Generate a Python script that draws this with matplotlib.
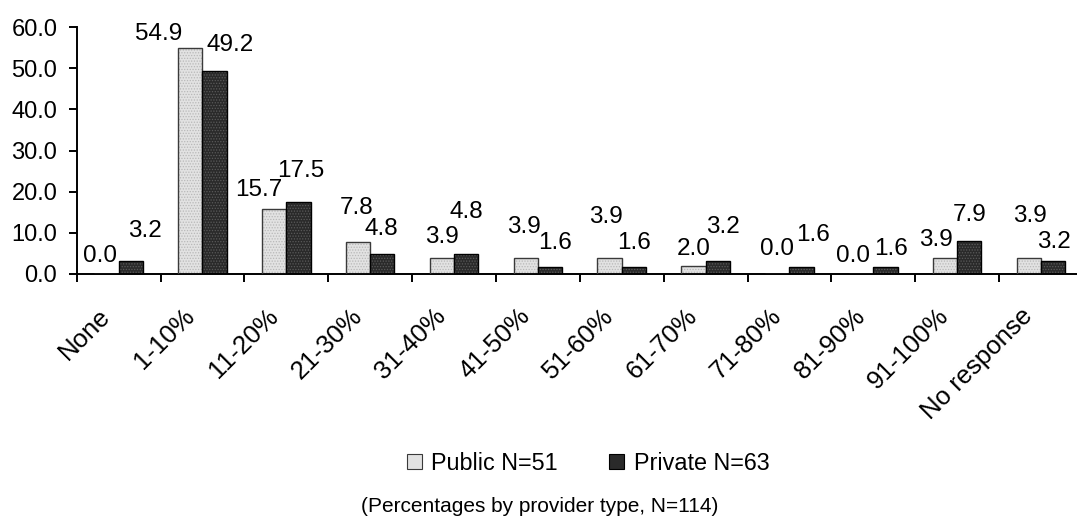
import numpy as np
import matplotlib
matplotlib.use("Agg")
import matplotlib.pyplot as plt
from matplotlib.patches import Patch
from matplotlib.transforms import ScaledTranslation

# Data: share of clients by provider type
categories = ["None", "1-10%", "11-20%", "21-30%", "31-40%", "41-50%",
              "51-60%", "61-70%", "71-80%", "81-90%", "91-100%", "No response"]
public_vals = [0.0, 54.9, 15.7, 7.8, 3.9, 3.9, 3.9, 2.0, 0.0, 0.0, 3.9, 3.9]
private_vals = [3.2, 49.2, 17.5, 4.8, 4.8, 1.6, 1.6, 3.2, 1.6, 1.6, 7.9, 3.2]
series_names = ["Public N=51", "Private N=63"]
caption = "(Percentages by provider type, N=114)"

# Label nudges (pixels: dx, gap above bar top) for the value labels
public_label_offsets = [(-6, 12), (-32, 8), (-15, 13), (-1, 28), (0, 15), (-2, 25),
                        (-4, 35), (0, 11), (0, 19), (-8, 12), (-9, 12), (1, 36)]
private_label_offsets = [(14, 24), (15, 20), (2, 25), (-1, 19), (0, 36), (5, 18),
                         (0, 18), (5, 28), (11, 26), (6, 12), (0, 20), (1, 13)]

plt.rcParams["font.family"] = ["Liberation Sans", "DejaVu Sans"]
plt.rcParams["hatch.linewidth"] = 0.6

W, H = 1077, 532
fig = plt.figure(figsize=(W / 100, H / 100), dpi=100)
ax = fig.add_axes([76.7 / W, (H - 274) / H, 1006.2 / W, 247 / H])

x = np.arange(len(categories))
bw = 0.29

pub_face, pub_dot, pub_edge = "#e2e2e2", "#b8b8b8", "#3a3a3a"
pri_face, pri_dot, pri_edge = "#2a2a2a", "#5a5a5a", "#000000"

for offs, vals, face, dot, edge, shift in [
        (public_label_offsets, public_vals, pub_face, pub_dot, pub_edge, -bw / 2),
        (private_label_offsets, private_vals, pri_face, pri_dot, pri_edge, bw / 2)]:
    ax.bar(x + shift, vals, bw, color=face, edgecolor=dot, linewidth=0,
           hatch="......", zorder=2)
    ax.bar(x + shift, vals, bw, fill=False, edgecolor=edge, linewidth=1.0, zorder=3)
    for xi, v, (dx, dy) in zip(x + shift, vals, offs):
        ax.annotate(f"{v:.1f}", xy=(xi, v), xytext=(dx, dy),
                    textcoords="offset pixels", ha="center", va="baseline",
                    fontsize=17.5, color="black")

ax.set_xlim(-0.5, len(categories) - 0.5)
ax.set_ylim(0, 60)
ax.set_yticks(np.arange(0, 61, 10))
ax.set_yticklabels([f"{t:.1f}" for t in np.arange(0, 61, 10)], fontsize=17)

# category boundaries carry the tick marks, centres carry the labels
ax.set_xticks(np.arange(len(categories) + 1) - 0.5)
ax.set_xticklabels([])
ax.set_xticks(x, minor=True)
ax.set_xticklabels(categories, minor=True, rotation=45, ha="right", va="center",
                   rotation_mode="anchor", fontsize=18.5)
ax.tick_params(axis="x", which="minor", length=0, pad=27.5)
ax.tick_params(axis="x", which="major", length=6, width=1.4, direction="out")
ax.tick_params(axis="y", length=6, width=1.4, direction="out", pad=8)
shift_left = ScaledTranslation(-0.12, 0, fig.dpi_scale_trans)
for lbl in ax.get_xticklabels(minor=True):
    lbl.set_transform(lbl.get_transform() + shift_left)

for s in ["top", "right"]:
    ax.spines[s].set_visible(False)
for s in ["left", "bottom"]:
    ax.spines[s].set_linewidth(1.4)
ax.set_facecolor("none")

handles = [Patch(facecolor=pub_face, edgecolor=pub_edge, linewidth=0.8),
           Patch(facecolor=pri_face, edgecolor=pri_edge, linewidth=0.8)]
fig.legend(handles, series_names, loc="center", bbox_to_anchor=(588 / W, 1 - 463 / H),
           ncol=2, frameon=False, fontsize=16.8, handlelength=0.65, handleheight=0.65,
           handletextpad=0.4, columnspacing=2.2)

fig.text(540 / W, 1 - 507 / H, caption, ha="center", va="center", fontsize=15)

fig.savefig("out.png", dpi=100)
